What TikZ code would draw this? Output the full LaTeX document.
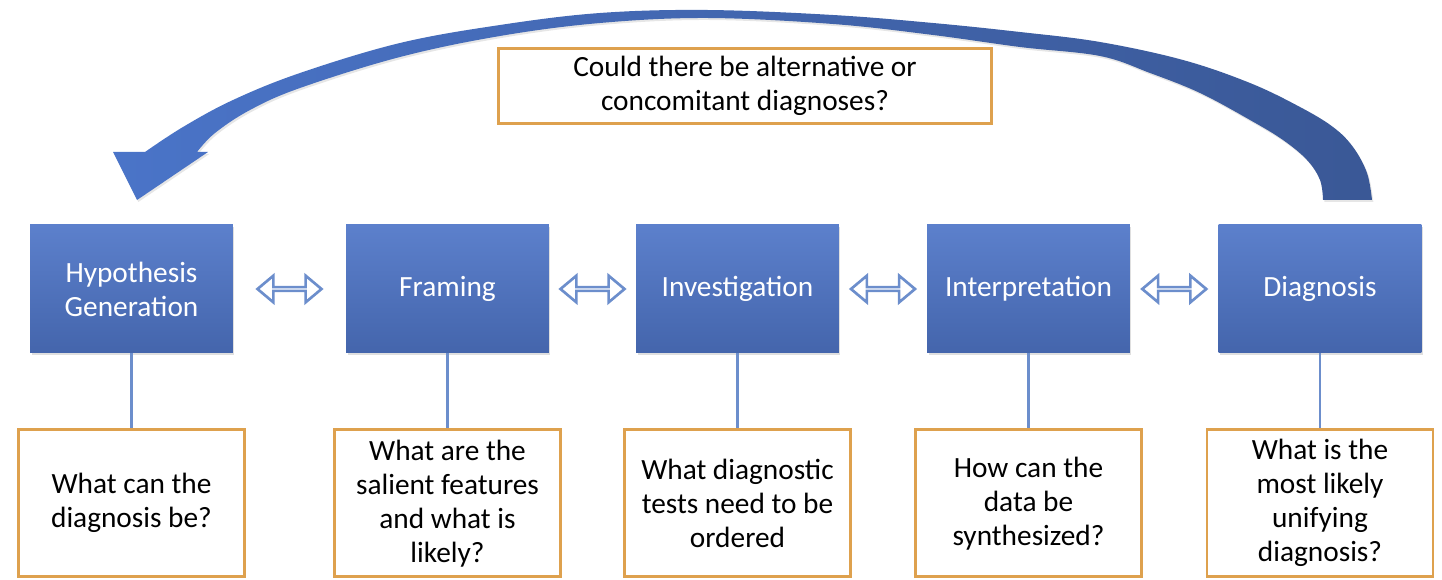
\documentclass[tikz,border=0pt]{standalone}
\usepackage{fontspec}
\setmainfont{Carlito}
\usetikzlibrary{positioning,shapes.arrows,shadows,calc}
\definecolor{boxtop}{RGB}{92,128,204}
\definecolor{boxbot}{RGB}{68,101,172}
\definecolor{qborder}{RGB}{222,161,78}
\definecolor{linkblue}{RGB}{108,142,204}
\definecolor{bendleft}{RGB}{74,116,200}
\definecolor{bendright}{RGB}{58,88,150}

\begin{document}
\begin{tikzpicture}[x=0.75pt,y=-0.75pt,
    phase/.style={rectangle,top color=boxtop,bottom color=boxbot,draw=none,
      minimum width=152pt,minimum height=96pt,align=center,text=white,
      font=\fontsize{22}{25.5}\selectfont,
      drop shadow={opacity=0.25,shadow xshift=1pt,shadow yshift=-1.5pt}},
    question/.style={rectangle,draw=qborder,line width=2.2pt,fill=white,
      minimum width=169.5pt,minimum height=110.3pt,align=center,
      font=\fontsize{22}{25.5}\selectfont},
    link/.style={draw=linkblue,line width=2.2pt},
    swap/.style={double arrow,draw=linkblue,line width=2pt,fill=white,
      minimum height=48pt,minimum width=20pt,double arrow head extend=6pt,
      double arrow tip angle=80,inner sep=0pt}
  ]
    \useasboundingbox (0,0) rectangle (1442,580);
    % feedback arrow, from Diagnosis back to Hypothesis Generation
    \shade[left color=bendleft,right color=bendright,
      drop shadow={opacity=0.2,shadow xshift=1pt,shadow yshift=-1.5pt}]
      (137,200) -- (113,152) -- (145,152)
      -- plot[smooth,tension=0.6] coordinates {(145,152) (183,127) (233,100)
        (300,73) (400,43) (500,25) (600,13) (707,10) (833,15) (933,23)
        (1020,32) (1100,42) (1183,60) (1250,83) (1300,107) (1333,127)
        (1353,147) (1367,173) (1372,200)}
      -- (1323,200)
      -- plot[smooth,tension=0.6] coordinates {(1323,200) (1320,180)
        (1307,160) (1283,140) (1250,120) (1200,93) (1150,73) (1100,56)
        (1020,47) (933,35) (833,24) (707,18) (600,23) (500,36) (400,57)
        (300,88) (250,110) (215,133) (197,152)}
      -- (208,152) -- cycle;
    \node[question,minimum width=369.8pt,minimum height=56.3pt] (alt) at (745,86)
      {Could there be alternative or\\concomitant diagnoses?};
    % phases
    \node[phase] (hyp) at (131.5,289) {Hypothesis\\Generation};
    \node[phase] (fra) at (447.5,289) {Framing};
    \node[phase] (inv) at (737.5,289) {Investigation};
    \node[phase] (int) at (1028.5,289) {Interpretation};
    \node[phase] (dia) at (1320,289) {Diagnosis};
    \node[swap] (s12) at ($(hyp.east)!0.5!(fra.west)$) {};
    \node[swap] (s23) at ($(fra.east)!0.5!(inv.west)$) {};
    \node[swap] (s34) at ($(inv.east)!0.5!(int.west)$) {};
    \node[swap] (s45) at ($(int.east)!0.5!(dia.west)$) {};
    % questions
    \node[question,below=56.25pt of hyp] (qhyp) {What can the\\diagnosis be?};
    \node[question,below=56.25pt of fra] (qfra) {What are the\\salient features\\and what is\\likely?};
    \node[question,below=56.25pt of inv] (qinv) {What diagnostic\\tests need to be\\ordered};
    \node[question,below=56.25pt of int] (qint) {How can the\\data be\\synthesized?};
    \node[question,below=56.25pt of dia] (qdia) {What is the\\most likely\\unifying\\diagnosis?};
    \draw[link] (hyp) -- (qhyp);
    \draw[link] (fra) -- (qfra);
    \draw[link] (inv) -- (qinv);
    \draw[link] (int) -- (qint);
    \draw[link] (dia) -- (qdia);
  \end{tikzpicture}
\end{document}
